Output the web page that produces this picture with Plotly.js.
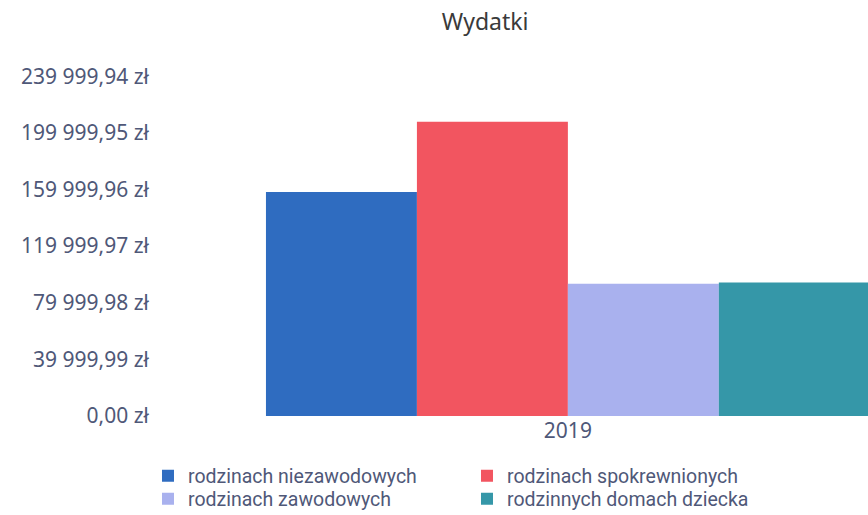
<!DOCTYPE html>
<html>
<head>
<meta charset="utf-8">
<script src="https://cdn.plot.ly/plotly-3.0.1.min.js"></script>
<style>html,body{margin:0;padding:0;background:#fff;}#chart{width:868px;height:515px;}</style>
</head>
<body>
<div id="chart"></div>
<script>
const categories = ['2019'];
const seriesNames = ['rodzinach niezawodowych', 'rodzinach spokrewnionych', 'rodzinach zawodowych', 'rodzinnych domach dziecka'];
const niezawodowych = [158200];
const spokrewnionych = [207800];
const zawodowych = [93400];
const domachDziecka = [94300];
const seriesValues = [niezawodowych, spokrewnionych, zawodowych, domachDziecka];
const seriesColors = ['#2f6cc0', '#f25560', '#a9b1ee', '#3597a8'];
const seriesLegend = ['legend', 'legend', 'legend2', 'legend2'];
const tickValues = [0, 39999.99, 79999.98, 119999.97, 159999.96, 199999.95, 239999.94];
const tickLabels = ['0,00 zł', '39 999,99 zł', '79 999,98 zł', '119 999,97 zł', '159 999,96 zł', '199 999,95 zł', '239 999,94 zł'];

const traces = seriesNames.map((name, i) => ({
  type: 'bar',
  name: name,
  x: categories,
  y: seriesValues[i],
  legend: seriesLegend[i],
  marker: {color: seriesColors[i], line: {width: 0}},
  hoverinfo: 'name+y'
}));

const FONT = 'Noto Sans, Open Sans, sans-serif';
const legendCommon = {orientation: 'h', xanchor: 'left', yanchor: 'middle', xref: 'container', yref: 'container',
  entrywidth: 274, entrywidthmode: 'pixels', traceorder: 'normal',
  font: {size: 19.5, color: '#4f5878', family: 'Roboto, Noto Sans, sans-serif'}, itemwidth: 30, bgcolor: 'rgba(0,0,0,0)'};

const layout = {
  width: 868,
  height: 515,
  paper_bgcolor: '#ffffff',
  plot_bgcolor: '#ffffff',
  font: {family: FONT, color: '#4f5878', size: 21},
  title: {text: 'Wydatki', x: 0.559, xref: 'container', xanchor: 'center', y: 0.957, yref: 'container', yanchor: 'middle',
          font: {size: 23, color: '#3a3a3a', family: FONT}},
  margin: {l: 150, r: 0, t: 62, b: 98.5},
  barmode: 'group',
  bargap: 0.159,
  bargroupgap: 0,
  xaxis: {type: 'category', range: [-0.582, 0.418], showgrid: false, zeroline: false, showline: false,
          ticks: '', tickfont: {size: 21, color: '#4f5878'}},
  yaxis: {range: [0, 250000], tickvals: tickValues, ticktext: tickLabels, showgrid: false, zeroline: false,
          showline: false, ticks: '', ticklen: 0, tickfont: {size: 21, color: '#4f5878'}},
  showlegend: true,
  legend: Object.assign({}, legendCommon, {x: 0.1705, y: 0.0757}),
  legend2: Object.assign({}, legendCommon, {x: 0.1705, y: 0.0311})
};

Plotly.newPlot('chart', traces, layout, {displayModeBar: false, staticPlot: true});
</script>
</body>
</html>
